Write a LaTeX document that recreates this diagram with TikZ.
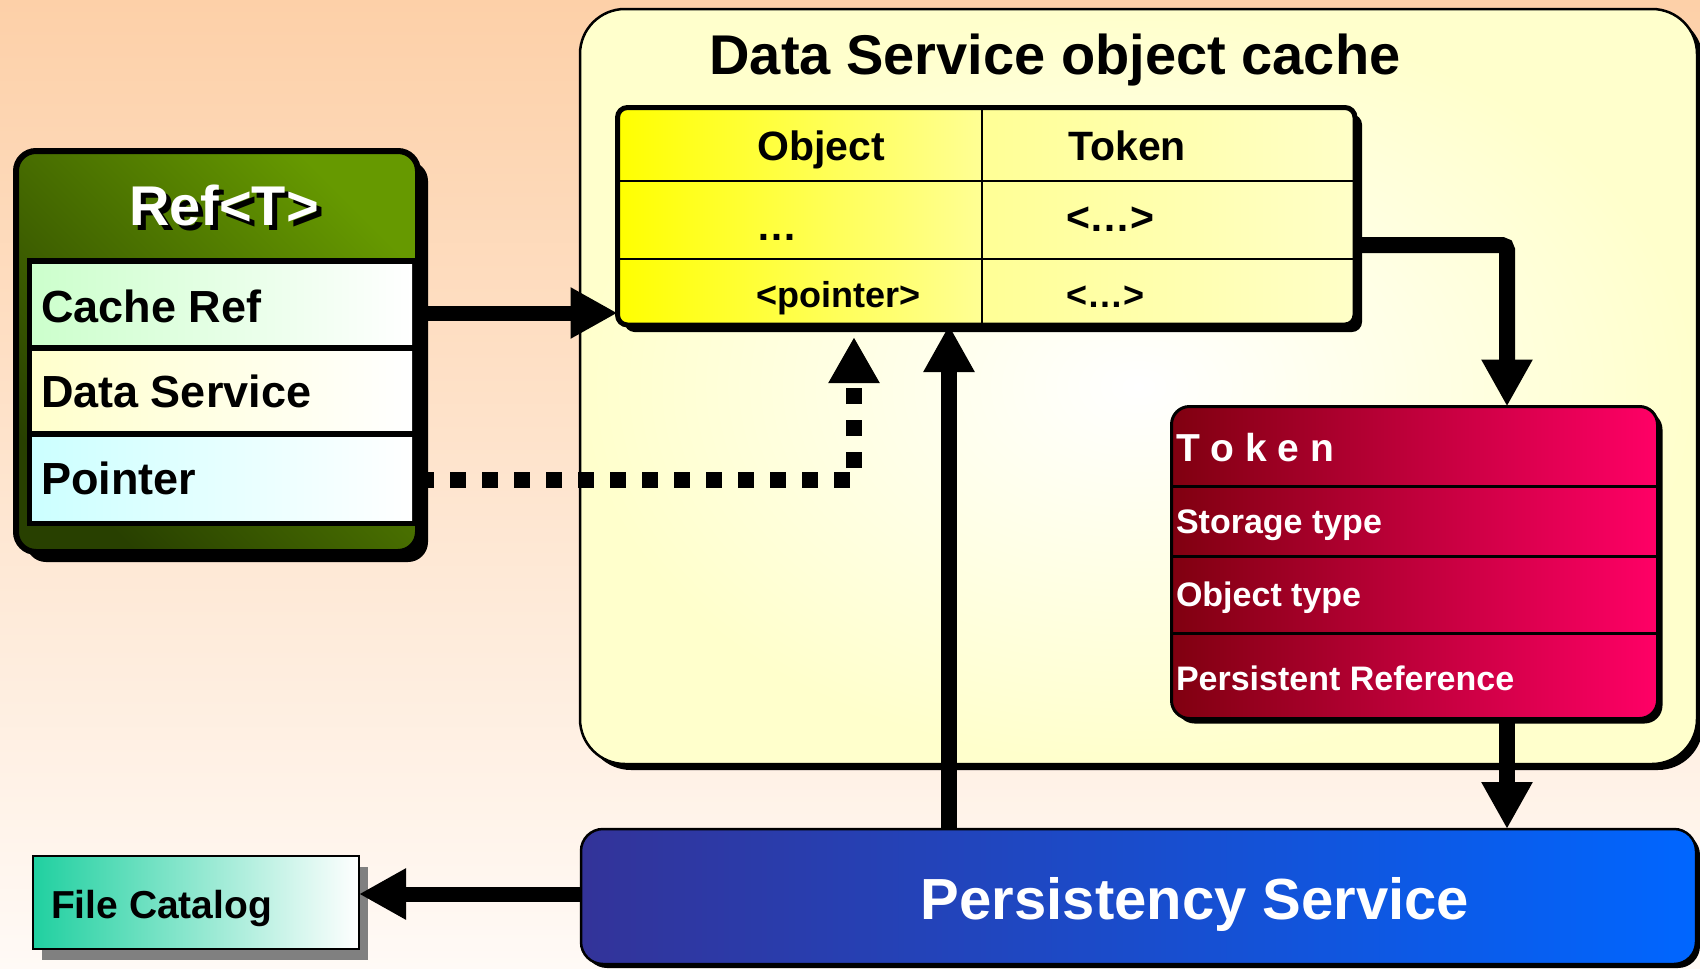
\documentclass[tikz,border=0pt]{standalone}
\usepackage{fontspec}
\setmainfont{Liberation Sans}
\usetikzlibrary{arrows.meta,shadows,calc}
\definecolor{bgtop}{RGB}{253,208,168}
\definecolor{bgbot}{RGB}{255,250,246}
\definecolor{pale}{RGB}{255,255,204}
\definecolor{grdark}{RGB}{40,64,0}
\definecolor{grlight}{RGB}{102,153,0}
\definecolor{rowgreen}{RGB}{204,255,204}
\definecolor{rowyellow}{RGB}{255,255,204}
\definecolor{rowcyan}{RGB}{204,255,255}
\definecolor{tblyellow}{RGB}{255,255,0}
\definecolor{tblmid}{RGB}{255,255,150}
\definecolor{tblright}{RGB}{255,255,200}
\definecolor{tkdark}{RGB}{128,0,16}
\definecolor{tkpink}{RGB}{255,0,102}
\definecolor{psleft}{RGB}{51,51,153}
\definecolor{psright}{RGB}{0,102,255}
\definecolor{fcteal}{RGB}{32,208,160}
\definecolor{fcshadow}{RGB}{128,128,128}
\newcommand\fsz[1]{\fontsize{#1}{#1}\selectfont\bfseries}
\begin{document}
\begin{tikzpicture}[x=1pt,y=-1pt,
  box/.style={draw=black, inner sep=0pt, outer sep=0pt, rectangle},
  blkshadow/.style={drop shadow={shadow xshift=#1, shadow yshift=-#1, fill=black, opacity=1}},
  txt/.style={inner sep=0pt, outer sep=0pt, font=\fsz{#1}},
  bigarrow/.style={draw=black, line width=15pt, -{Triangle[length=47pt,width=48pt]}},
  dotarrow/.style={draw=black, line width=16pt, dash pattern=on 16pt off 16pt, -{Triangle[length=46pt,width=48pt]}},
  sepline/.style={draw=black, line width=#1},
]
\useasboundingbox (0,0) rectangle (1700,969);
\shade[top color=bgtop, bottom color=bgbot] (0,0) rectangle (1700,969);

% Data Service object cache
\node[box, line width=2.5pt, rounded corners=45pt, inner color=white, outer color=pale,
      blkshadow=6pt, minimum width=1117pt, minimum height=755pt] (dsoc) at (1138.5,386.5) {};
\node[txt=56, anchor=base] (dsoctitle) at (1055,74) {Data Service object cache};

% table
\node[box, line width=5pt, rounded corners=10pt, left color=tblyellow, right color=tblright,
      middle color=tblmid, blkshadow=7pt, minimum width=737.5pt, minimum height=217.5pt] (tbl) at (986.25,216.25) {};
\draw[sepline=2pt] (982,107.5) -- (982,325);
\draw[sepline=2pt] (617.5,181) -- (1355,181);
\draw[sepline=2pt] (617.5,259) -- (1355,259);
\node[txt=41, anchor=base] (hobj) at (821,160) {Object};
\node[txt=41, anchor=base] (htok) at (1127,160) {Token};
\node[txt=41, anchor=base west] (c1) at (756,240) {…};
\node[txt=41, anchor=base west] (c2) at (1066,231) {<…>};
\node[txt=36, anchor=base west] (c3) at (756,307) {<pointer>};
\node[txt=36, anchor=base west] (c4) at (1066,307) {<…>};

% Ref<T>
\node[box, line width=6pt, rounded corners=20pt, top color=grlight, bottom color=grdark, shading angle=-45,
      blkshadow=10pt, minimum width=402pt, minimum height=401pt] (refbox) at (217,351.5) {};
\node[txt=56, anchor=base, black] (reftitleshadow) at (229,230) {Ref<T>};
\node[txt=56, anchor=base, white] (reftitle) at (224,225) {Ref<T>};
\node[box, fill=black, minimum width=390pt, minimum height=267pt] (rowframe) at (222,391.5) {};
\node[box, draw=none, left color=rowgreen, right color=white, minimum width=380pt, minimum height=80pt] (row1) at (222,304) {};
\node[box, draw=none, left color=rowyellow, right color=white, minimum width=380pt, minimum height=79pt] (row2) at (222,390.5) {};
\node[box, draw=none, left color=rowcyan, right color=white, minimum width=380pt, minimum height=83pt] (row3) at (222,478.5) {};
\node[txt=45, anchor=base west] (r1t) at (41,322) {Cache Ref};
\node[txt=45, anchor=base west] (r2t) at (41,407) {Data Service};
\node[txt=45, anchor=base west] (r3t) at (41,494) {Pointer};

% Token box
\node[box, line width=3pt, rounded corners=18pt, left color=tkdark, right color=tkpink,
      blkshadow=5pt, minimum width=486pt, minimum height=312pt] (token) at (1414.5,562.5) {};
\draw[sepline=3pt] (1171.5,486) -- (1657.5,486);
\draw[sepline=3pt] (1171.5,556) -- (1657.5,556);
\draw[sepline=3pt] (1171.5,633) -- (1657.5,633);
\node[txt=39, anchor=base west, white] (tk0) at (1176,461) {T o k e n};
\node[txt=34, anchor=base west, white] (tk1) at (1176,533) {Storage type};
\node[txt=34, anchor=base west, white] (tk2) at (1176,606) {Object type};
\node[txt=34, anchor=base west, white] (tk3) at (1176,690) {Persistent Reference};

% Persistency Service
\node[box, line width=2.5pt, rounded corners=22pt, left color=psleft, right color=psright,
      blkshadow=4pt, minimum width=1115pt, minimum height=135pt] (ps) at (1138.5,896.5) {};
\node[txt=58, anchor=base, white] (pst) at (1195,919) {Persistency Service};

% File Catalog
\node[box, line width=2pt, left color=fcteal, right color=white,
      drop shadow={shadow xshift=9pt, shadow yshift=-11pt, fill=fcshadow, opacity=1},
      minimum width=326pt, minimum height=93pt] (fc) at (196,902.5) {};
\node[txt=39, anchor=base west] (fct) at (51,918) {File Catalog};

% connectors
\coordinate (cacheY) at (0,313);
\coordinate (dotcorner) at (854,480);
\coordinate (tblshadowbot) at (986,337);
\coordinate (upx) at (949,0);
\coordinate (tkcorner) at (1507,245);
\coordinate (fcY) at (0,894);

\draw[bigarrow] (refbox.east |- cacheY) -- (tbl.west |- cacheY);
\draw[dotarrow] (refbox.east |- dotcorner) -- (dotcorner) -- (dotcorner |- tblshadowbot);
\draw[bigarrow, line width=16pt] (ps.north -| upx) -- (tbl.south -| upx);
\draw[bigarrow, line width=16pt, rounded corners=5pt] (tbl.east |- tkcorner) -- (tkcorner) -- (tkcorner |- token.north);
\draw[bigarrow, line width=16pt] (token.south -| tkcorner) -- (ps.north -| tkcorner);
\draw[bigarrow] (ps.west |- fcY) -- (fc.east |- fcY);
\end{tikzpicture}
\end{document}
